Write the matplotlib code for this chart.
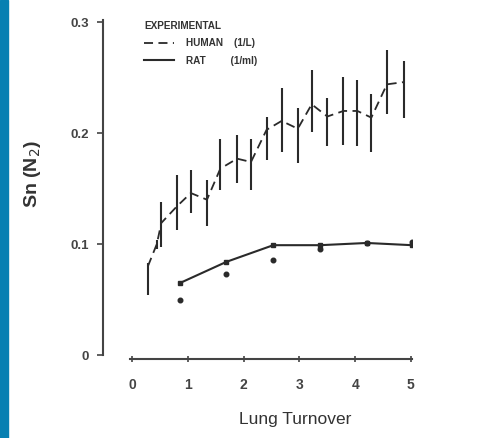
import matplotlib
matplotlib.use("Agg")
import matplotlib.pyplot as plt
import numpy as np
from matplotlib.patches import Rectangle

plt.rcParams['font.family'] = ['Liberation Sans', 'DejaVu Sans']

# Human data (dashed, with error bars)
human_x = [0.28, 0.44, 0.52, 0.80, 1.05, 1.34, 1.58, 1.88, 2.13, 2.41, 2.68,
           2.97, 3.22, 3.50, 3.79, 4.04, 4.29, 4.57, 4.87]
human_y = [0.080, 0.100, 0.119, 0.134, 0.146, 0.140, 0.168, 0.177, 0.174, 0.203,
           0.211, 0.204, 0.226, 0.215, 0.220, 0.220, 0.214, 0.244, 0.246]
human_lo = [0.054, 0.096, 0.097, 0.113, 0.128, 0.116, 0.149, 0.155, 0.149, 0.176,
            0.183, 0.173, 0.201, 0.188, 0.189, 0.188, 0.183, 0.217, 0.214]
human_hi = [0.083, 0.104, 0.138, 0.162, 0.167, 0.158, 0.195, 0.198, 0.195, 0.215,
            0.241, 0.223, 0.257, 0.232, 0.251, 0.248, 0.235, 0.275, 0.265]

# Rat data (solid line) and separate measured points
rat_x = [0.86, 1.69, 2.53, 3.37, 4.21, 5.02]
rat_line = [0.065, 0.084, 0.099, 0.099, 0.101, 0.099]
rat_pts = [0.050, 0.073, 0.086, 0.096, 0.101, 0.102]

x_ticks = [0, 1, 2, 3, 4, 5]
y_ticks = [0, 0.1, 0.2, 0.3]
y_ticklabels = ['0', '0.1', '0.2', '0.3']

fig = plt.figure(figsize=(4.96, 4.38), dpi=100)
fig.patches.append(Rectangle((0, 0), 8 / 496, 1, transform=fig.transFigure,
                             color='#0780b2', zorder=0))
ax = fig.add_axes([103 / 496, 1 - 359 / 438, 309 / 496, 339 / 438])

ink = '#2a2a2a'
hy = np.array(human_y)
yerr = [hy - np.array(human_lo), np.array(human_hi) - hy]
ax.errorbar(human_x, human_y, yerr=yerr, fmt='none', ecolor=ink,
            elinewidth=1.5, capsize=0)
h_line, = ax.plot(human_x, human_y, color=ink, lw=1.3, ls=(0, (5, 3)),
                  label='HUMAN    (1/L)')
r_line, = ax.plot(rat_x, rat_line, color=ink, lw=1.5, label='RAT         (1/ml)')
ax.plot(rat_x, rat_line, ls='none', marker='s', ms=2.2, color=ink)
ax.plot(rat_x, rat_pts, ls='none', marker='o', ms=3.3, color=ink)

ax.set_xlim(-0.526, 5.02)
ax.set_ylim(-0.0036, 0.302)
ax.spines['top'].set_visible(False)
ax.spines['right'].set_visible(False)
ax.spines['left'].set_bounds(0, 0.302)
ax.spines['bottom'].set_bounds(-0.04, 5.02)
for s in ('left', 'bottom'):
    ax.spines[s].set_color('#444444')
    ax.spines[s].set_linewidth(1.5)

ax.set_xticks(x_ticks)
ax.set_yticks(y_ticks)
ax.set_yticklabels(y_ticklabels)
ax.tick_params(axis='y', direction='out', length=4, width=1.2, pad=6,
               labelsize=9.5, colors='#444444')
ax.tick_params(axis='x', direction='inout', length=4, width=1.2, pad=12,
               labelsize=10, colors='#444444')
for lab in ax.get_xticklabels() + ax.get_yticklabels():
    lab.set_fontweight('bold')

ax.set_xlabel('Lung Turnover', fontsize=12.5, color='#333333')
ax.xaxis.set_label_coords(0.621, -0.156)
ax.set_ylabel('Sn (N$_2$)', fontsize=14, color='#333333', fontweight='bold')
ax.yaxis.set_label_coords(-0.194, 0.546)

leg = ax.legend(handles=[h_line, r_line], loc='upper left',
                bbox_to_anchor=(0.118, 1.012), frameon=False,
                title='EXPERIMENTAL', fontsize=7.2, title_fontsize=7.2,
                handlelength=3.0, handletextpad=1.2, borderpad=0,
                labelspacing=0.75, alignment='left')
for t in leg.get_texts():
    t.set_fontweight('bold')
    t.set_color('#333333')
leg.get_title().set_fontweight('bold')
leg.get_title().set_color('#333333')

fig.savefig('out.png', dpi=100)
